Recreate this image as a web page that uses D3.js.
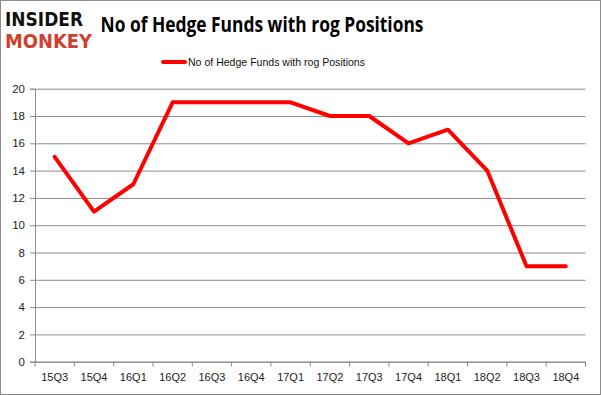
<!DOCTYPE html>
<html>
<head>
<meta charset="utf-8">
<script src="https://cdn.jsdelivr.net/npm/d3@7"></script>
<style>
  body { margin: 0; background: #fff; }
  svg { display: block; font-family: "Open Sans", "DejaVu Sans", sans-serif; }
</style>
</head>
<body>
<svg width="601" height="395"></svg>
<script>
// data
const quarters = ["15Q3", "15Q4", "16Q1", "16Q2", "16Q3", "16Q4", "17Q1",
                  "17Q2", "17Q3", "17Q4", "18Q1", "18Q2", "18Q3", "18Q4"];
const funds = [15, 11, 13, 19, 19, 19, 19, 18, 18, 16, 17, 14, 7, 7];
const yTicks = [0, 2, 4, 6, 8, 10, 12, 14, 16, 18, 20];
const seriesName = "No of Hedge Funds with rog Positions";

const plotLeft = 35, plotRight = 585.5, plotTop = 88.7, plotBottom = 361.7;

const svg = d3.select("svg");

// outer frame
svg.append("rect")
  .attr("x", 0.5).attr("y", 0.5)
  .attr("width", 600).attr("height", 394)
  .attr("fill", "#fff")
  .attr("stroke", "#8c8c8c");

const xScale = d3.scaleBand()
  .domain(quarters)
  .range([plotLeft, plotRight]);

const yScale = d3.scaleLinear()
  .domain([0, 20])
  .range([plotBottom, plotTop]);

// grid lines
svg.append("g")
  .attr("transform", `translate(${plotLeft}, 0)`)
  .call(d3.axisLeft(yScale).tickValues(yTicks).tickSize(-(plotRight - plotLeft)).tickFormat(""))
  .call(g => g.select(".domain").remove())
  .selectAll("line")
  .attr("stroke", "#8c8c8c");

// y axis
svg.append("g")
  .attr("transform", `translate(${plotLeft}, 0)`)
  .call(d3.axisLeft(yScale).tickValues(yTicks).tickSize(5).tickPadding(5))
  .call(g => g.select(".domain").attr("stroke", "#8c8c8c"))
  .call(g => g.selectAll("line").attr("stroke", "#8c8c8c"))
  .call(g => g.selectAll("text")
    .attr("fill", "#222")
    .attr("font-size", 11.5)
    .attr("font-family", "'Liberation Sans', sans-serif"));

// x axis, ticks between categories
svg.append("g")
  .attr("transform", `translate(0, ${plotBottom})`)
  .call(d3.axisBottom(xScale).tickSizeOuter(0).tickSize(0).tickPadding(12))
  .call(g => g.select(".domain").attr("stroke", "#8c8c8c"))
  .call(g => g.selectAll("text")
    .attr("fill", "#222")
    .attr("font-size", 11)
    .attr("font-family", "'Liberation Sans', sans-serif"));

svg.append("g")
  .selectAll("line")
  .data(quarters.concat(["end"]))
  .enter()
  .append("line")
  .attr("x1", (d, i) => i < quarters.length ? xScale(d) : plotRight)
  .attr("x2", (d, i) => i < quarters.length ? xScale(d) : plotRight)
  .attr("y1", plotBottom)
  .attr("y2", plotBottom + 5)
  .attr("stroke", "#8c8c8c");

// the line
const line = d3.line()
  .x((d, i) => xScale(quarters[i]) + xScale.bandwidth() / 2)
  .y(d => yScale(d));

svg.append("path")
  .datum(funds)
  .attr("d", line)
  .attr("fill", "none")
  .attr("stroke", "#ff0000")
  .attr("stroke-width", 4)
  .attr("stroke-linejoin", "round")
  .attr("stroke-linecap", "round");

// title
svg.append("text")
  .attr("x", 262)
  .attr("y", 32)
  .attr("text-anchor", "middle")
  .attr("font-size", 21)
  .attr("font-weight", "bold")
  .attr("textLength", 323)
  .attr("lengthAdjust", "spacingAndGlyphs")
  .attr("fill", "#000")
  .text(seriesName);

// legend
svg.append("line")
  .attr("x1", 163).attr("x2", 185)
  .attr("y1", 62).attr("y2", 62)
  .attr("stroke", "#ff0000")
  .attr("stroke-width", 4)
  .attr("stroke-linecap", "round");

svg.append("text")
  .attr("x", 188)
  .attr("y", 66)
  .attr("font-size", 11)
  .attr("font-family", "'Liberation Sans', sans-serif")
  .attr("textLength", 177)
  .attr("lengthAdjust", "spacingAndGlyphs")
  .attr("fill", "#111")
  .text(seriesName);

// logo
svg.append("text")
  .attr("x", 5)
  .attr("y", 26)
  .attr("font-size", 19)
  .attr("font-weight", 900)
  .attr("font-family", "'DejaVu Sans', sans-serif")
  .attr("textLength", 78)
  .attr("lengthAdjust", "spacingAndGlyphs")
  .attr("fill", "#111")
  .text("INSIDER");

svg.append("text")
  .attr("x", 5)
  .attr("y", 48)
  .attr("font-size", 19)
  .attr("font-weight", 900)
  .attr("font-family", "'DejaVu Sans', sans-serif")
  .attr("textLength", 87)
  .attr("lengthAdjust", "spacingAndGlyphs")
  .attr("fill", "#d0402e")
  .text("MONKEY");
</script>
</body>
</html>
